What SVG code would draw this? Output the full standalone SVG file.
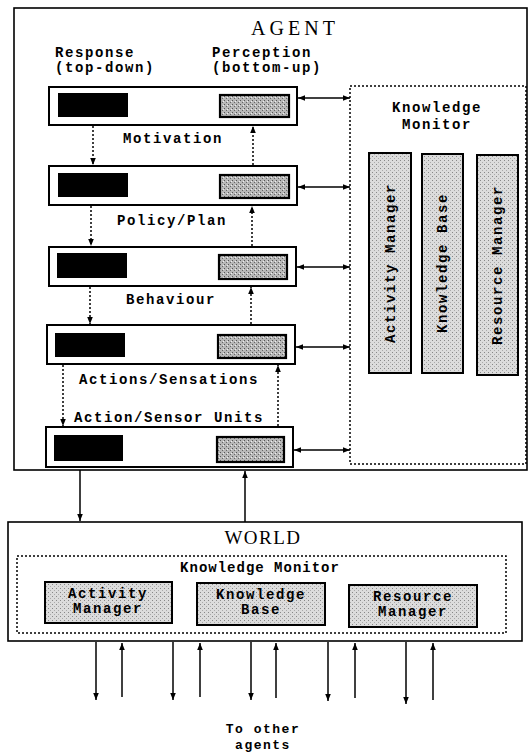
<svg xmlns="http://www.w3.org/2000/svg" width="529" height="755" viewBox="0 0 529 755">
<style>
.m{font-family:"Liberation Mono","Courier New",monospace;font-weight:bold;font-size:14px;letter-spacing:1.6px;fill:#000}
.c{text-anchor:middle}
.title{font-family:"Liberation Serif","Times New Roman",serif;font-size:20px;letter-spacing:4px;text-anchor:middle;fill:#000}
.frame{fill:#fff;stroke:#000;stroke-width:1.6}
.layer{fill:#fff;stroke:#000;stroke-width:2}
.blk{fill:#000}
.gry{fill:url(#stip);stroke:#000;stroke-width:2.2}
.bar{fill:url(#stipL);stroke:#000;stroke-width:2}
.km{fill:none;stroke:#000;stroke-width:1.5;stroke-dasharray:2 2}
.dot{fill:none;stroke:#000;stroke-width:1.5;stroke-dasharray:2 2}
.sol{fill:none;stroke:#000;stroke-width:1.5}
</style>
<defs>
<pattern id="stip" width="4" height="4" patternUnits="userSpaceOnUse">
<rect width="4" height="4" fill="#b8b8b8"/>
<rect x="0" y="0" width="1" height="1" fill="#555"/>
<rect x="2" y="2" width="1" height="1" fill="#666"/>
<rect x="3" y="1" width="1" height="1" fill="#eee"/>
</pattern>
<pattern id="stipL" width="4" height="4" patternUnits="userSpaceOnUse">
<rect width="4" height="4" fill="#dcdcdc"/>
<rect x="0" y="0" width="1" height="1" fill="#888"/>
<rect x="2" y="2" width="1" height="1" fill="#aaa"/>
</pattern>
<marker id="ah" viewBox="0 0 10 10" refX="10" refY="5" markerWidth="10" markerHeight="7" orient="auto-start-reverse" markerUnits="userSpaceOnUse">
<path d="M0,1 L10,5 L0,9 Z" fill="#000"/>
</marker>
</defs>

<g id="agent">
<rect class="frame" x="14" y="8" width="513" height="462"/>
<text class="title" x="295" y="35">AGENT</text>
<text class="m" x="55" y="57">Response</text>
<text class="m" x="55" y="72">(top-down)</text>
<text class="m" x="212" y="57">Perception</text>
<text class="m" x="212" y="72">(bottom-up)</text>
</g>

<g id="motivation">
<rect class="layer" x="49" y="87" width="248" height="38"/>
<rect class="blk" x="58" y="93" width="70" height="24"/>
<rect class="gry" x="220" y="95" width="69" height="22"/>
<text class="m c" x="173" y="143">Motivation</text>
</g>
<g id="policy">
<rect class="layer" x="49" y="166" width="248" height="39"/>
<rect class="blk" x="58" y="173" width="70" height="24"/>
<rect class="gry" x="220" y="175" width="69" height="23"/>
<text class="m c" x="172" y="225">Policy/Plan</text>
</g>
<g id="behaviour">
<rect class="layer" x="49" y="247" width="247" height="39"/>
<rect class="blk" x="57" y="253" width="70" height="25"/>
<rect class="gry" x="219" y="255" width="68" height="24"/>
<text class="m c" x="171" y="304">Behaviour</text>
</g>
<g id="actions">
<rect class="layer" x="47" y="325" width="248" height="39"/>
<rect class="blk" x="55" y="333" width="70" height="24"/>
<rect class="gry" x="218" y="335" width="68" height="23"/>
<text class="m c" x="169" y="384">Actions/Sensations</text>
</g>
<g id="units">
<rect class="layer" x="46" y="427" width="247" height="40"/>
<rect class="blk" x="54" y="435" width="69" height="26"/>
<rect class="gry" x="217" y="437" width="67" height="25"/>
<text class="m c" x="169" y="422">Action/Sensor Units</text>
</g>

<g id="agent-km">
<rect class="km" x="350" y="86" width="176" height="378"/>
<text class="m c" x="437" y="112">Knowledge</text>
<text class="m c" x="437" y="129">Monitor</text>
<rect class="bar" x="369" y="153" width="42" height="220"/>
<rect class="bar" x="422" y="154" width="41" height="219"/>
<rect class="bar" x="477" y="155" width="41" height="220"/>
<text class="m c" transform="translate(395,263) rotate(-90)">Activity Manager</text>
<text class="m c" transform="translate(447,263) rotate(-90)">Knowledge Base</text>
<text class="m c" transform="translate(502,265) rotate(-90)">Resource Manager</text>
</g>

<g id="world">
<rect class="frame" x="8" y="522" width="514" height="119"/>
<text class="title" x="263" y="544" style="letter-spacing:1.5px;font-size:19px">WORLD</text>
<rect class="km" x="17" y="556" width="489" height="77"/>
<text class="m c" x="260" y="572" style="letter-spacing:1px">Knowledge Monitor</text>
<rect class="bar" x="45" y="582" width="127" height="41"/>
<rect class="bar" x="197" y="583" width="128" height="42"/>
<rect class="bar" x="349" y="585" width="128" height="42"/>
<text class="m c" x="108" y="598">Activity</text>
<text class="m c" x="108" y="613">Manager</text>
<text class="m c" x="261" y="599">Knowledge</text>
<text class="m c" x="261" y="614">Base</text>
<text class="m c" x="413" y="601">Resource</text>
<text class="m c" x="413" y="616">Manager</text>
</g>

<g id="others">
<text class="m c" x="263" y="733" style="letter-spacing:1.5px;font-size:13px">To other</text>
<text class="m c" x="263" y="749" style="letter-spacing:1.5px;font-size:13px">agents</text>
</g>

<g id="connectors">
<line class="dot" x1="93" y1="126" x2="93" y2="165" marker-end="url(#ah)"/>
<line class="dot" x1="91" y1="206" x2="91" y2="246" marker-end="url(#ah)"/>
<line class="dot" x1="90" y1="287" x2="90" y2="324" marker-end="url(#ah)"/>
<line class="dot" x1="63" y1="365" x2="63" y2="426" marker-end="url(#ah)"/>
<line class="dot" x1="253" y1="165" x2="253" y2="126" marker-end="url(#ah)"/>
<line class="dot" x1="252" y1="246" x2="252" y2="206" marker-end="url(#ah)"/>
<line class="dot" x1="251" y1="324" x2="251" y2="287" marker-end="url(#ah)"/>
<line class="dot" x1="278" y1="426" x2="278" y2="365" marker-end="url(#ah)"/>
<line class="sol" x1="298" y1="98" x2="350" y2="98" marker-start="url(#ah)" marker-end="url(#ah)"/>
<line class="sol" x1="298" y1="187" x2="350" y2="187" marker-start="url(#ah)" marker-end="url(#ah)"/>
<line class="sol" x1="297" y1="267" x2="350" y2="267" marker-start="url(#ah)" marker-end="url(#ah)"/>
<line class="sol" x1="296" y1="347" x2="350" y2="347" marker-start="url(#ah)" marker-end="url(#ah)"/>
<line class="sol" x1="294" y1="450" x2="350" y2="450" marker-start="url(#ah)" marker-end="url(#ah)"/>
<line class="sol" x1="80" y1="470" x2="80" y2="521" marker-end="url(#ah)"/>
<line class="sol" x1="245" y1="522" x2="245" y2="471" marker-end="url(#ah)"/>
<line class="sol" x1="96" y1="642" x2="96" y2="700" marker-end="url(#ah)"/>
<line class="sol" x1="122" y1="697" x2="122" y2="643" marker-end="url(#ah)"/>
<line class="sol" x1="173" y1="642" x2="173" y2="700" marker-end="url(#ah)"/>
<line class="sol" x1="200" y1="697" x2="200" y2="643" marker-end="url(#ah)"/>
<line class="sol" x1="251" y1="642" x2="251" y2="700" marker-end="url(#ah)"/>
<line class="sol" x1="276" y1="698" x2="276" y2="643" marker-end="url(#ah)"/>
<line class="sol" x1="328" y1="642" x2="328" y2="701" marker-end="url(#ah)"/>
<line class="sol" x1="355" y1="698" x2="355" y2="643" marker-end="url(#ah)"/>
<line class="sol" x1="406" y1="642" x2="406" y2="704" marker-end="url(#ah)"/>
<line class="sol" x1="433" y1="700" x2="433" y2="643" marker-end="url(#ah)"/>
</g>
</svg>
